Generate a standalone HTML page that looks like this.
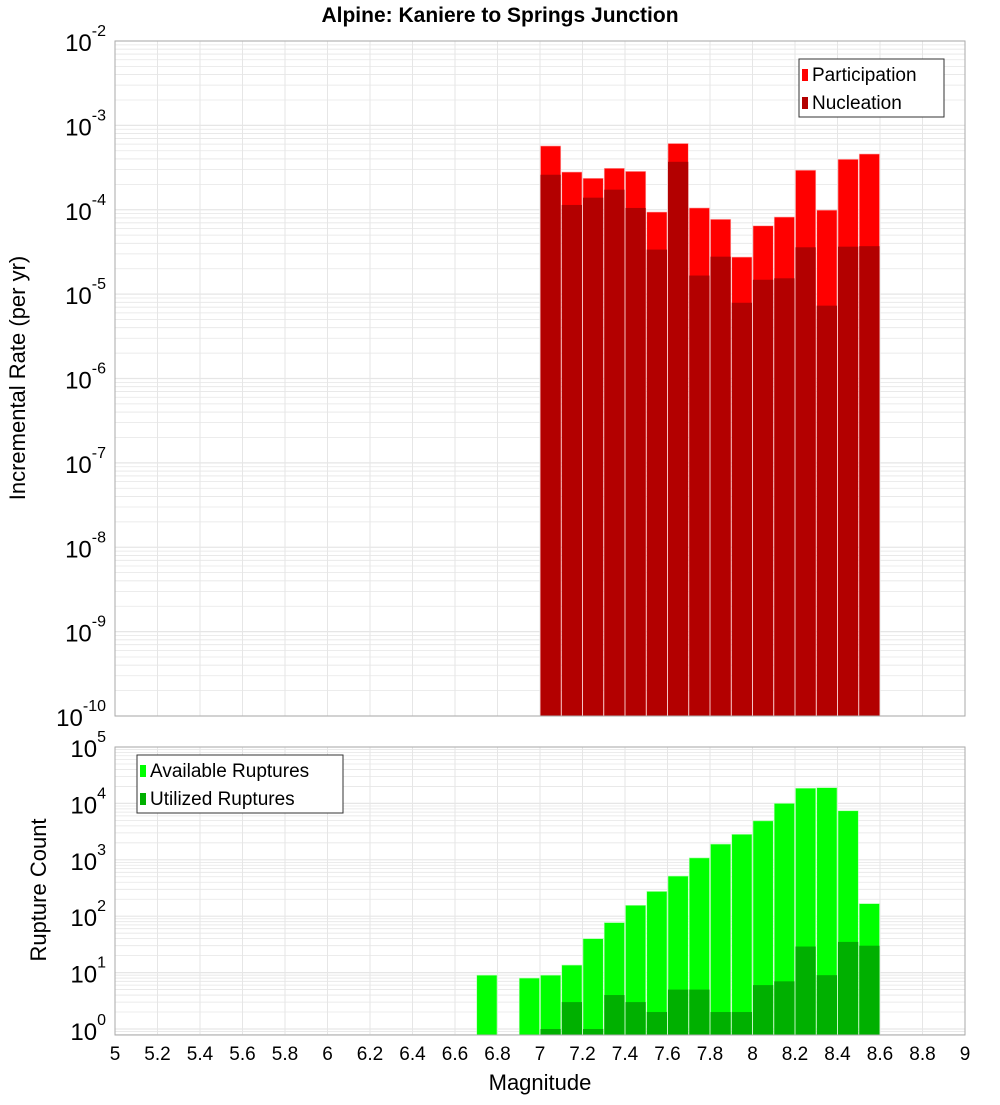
<!DOCTYPE html>
<html><head><meta charset="utf-8"><style>
body{margin:0;background:#fff;width:1000px;height:1100px;overflow:hidden}
svg{font-family:"Liberation Sans","DejaVu Sans",sans-serif}
</style></head><body>
<svg id="chart" width="1000" height="1100" xmlns="http://www.w3.org/2000/svg">
<text x="500" y="22" text-anchor="middle" font-size="21" font-weight="bold">Alpine: Kaniere to Springs Junction</text>
<g id="topPlot"></g>
<g id="botPlot"></g>
<text transform="translate(25,378) rotate(-90)" text-anchor="middle" font-size="22">Incremental Rate (per yr)</text>
<text transform="translate(46,890) rotate(-90)" text-anchor="middle" font-size="22">Rupture Count</text>
<text x="540" y="1090" text-anchor="middle" font-size="22">Magnitude</text>
</svg>
<script>
const binCenters=[7.05,7.15,7.25,7.35,7.45,7.55,7.65,7.75,7.85,7.95,8.05,8.15,8.25,8.35,8.45,8.55];
const participation=[5.7e-4,2.8e-4,2.36e-4,3.1e-4,2.85e-4,9.4e-5,6.1e-4,1.05e-4,7.7e-5,2.75e-5,6.45e-5,8.2e-5,2.94e-4,9.9e-5,3.96e-4,4.58e-4];
const nucleation=[2.6e-4,1.14e-4,1.39e-4,1.73e-4,1.05e-4,3.37e-5,3.7e-4,1.66e-5,2.78e-5,7.9e-6,1.48e-5,1.54e-5,3.59e-5,7.3e-6,3.65e-5,3.7e-5];
const countCenters=[6.75,6.95,7.05,7.15,7.25,7.35,7.45,7.55,7.65,7.75,7.85,7.95,8.05,8.15,8.25,8.35,8.45,8.55];
const available=[9,8,9,13.6,40,77,156,275,515,1080,1900,2830,4900,10000,18600,19000,7400,167];
const utilized=[0,0,1,3,1,4,3,2,5,5,2,2,6,7,29,9,35,30];
const xTicks=[5,5.2,5.4,5.6,5.8,6,6.2,6.4,6.6,6.8,7,7.2,7.4,7.6,7.8,8,8.2,8.4,8.6,8.8,9];
const topExps=[-2,-3,-4,-5,-6,-7,-8,-9,-10];
const botExps=[5,4,3,2,1,0];
const NS='http://www.w3.org/2000/svg';
const X0=115,X1=965;
const xs=m=>X0+(m-5)/4*(X1-X0);
function mk(p,t,a){const e=document.createElementNS(NS,t);for(const k in a)e.setAttribute(k,a[k]);p.appendChild(e);return e;}
const topG=document.getElementById('topPlot'),botG=document.getElementById('botPlot');
const TY0=41,TY1=716;
const ysT=v=>TY0+(-2-Math.log10(v))*(TY1-TY0)/8;
const BY0=747,BY1=1035,BYone=1029;
const ysB=v=>BYone-Math.log10(v)*(BYone-BY0)/5;
function grid(g,y0,y1,decs,ys){
  for(const d of decs){for(let k=1;k<10;k++){const y=ys(k*Math.pow(10,d));if(y<y0-0.5||y>y1+0.5)continue;
    const l=mk(g,'line',{x1:X0,x2:X1,y1:y,y2:y,stroke:'#e6e6e6','stroke-width':k==1?1.2:0.8});
    
    }}
  for(const t of xTicks){const l=mk(g,'line',{x1:xs(t),x2:xs(t),y1:y0,y2:y1,stroke:'#e6e6e6','stroke-width':1});
    
    }
}
grid(topG,TY0,TY1,[-10,-9,-8,-7,-6,-5,-4,-3,-2],ysT);
grid(botG,BY0,BY1,[-1,0,1,2,3,4,5],ysB);
const bw=(X1-X0)/40;
binCenters.forEach((c,i)=>{
  const x=xs(c)-bw/2;
  let y=ysT(participation[i]);
  let r=mk(topG,'rect',{x:x+0.5,y:y,width:bw-1,height:TY1-y,fill:'#ff0000',stroke:'#ffb0b0','stroke-width':0.6});
  
  
  y=ysT(nucleation[i]);
  r=mk(topG,'rect',{x:x+0.5,y:y,width:bw-1,height:TY1-y,fill:'#b30000'});
  
  
});
countCenters.forEach((c,i)=>{
  const x=xs(c)-bw/2;
  let y=ysB(available[i]);
  let r=mk(botG,'rect',{x:x+0.5,y:y,width:bw-1,height:BY1-y,fill:'#00ff00',stroke:'#b0ffb0','stroke-width':0.6});
  
  
  if(utilized[i]>0){y=ysB(utilized[i]);
  r=mk(botG,'rect',{x:x+0.5,y:y,width:bw-1,height:BY1-y,fill:'#00b000'});
  
  }
});
let f=mk(topG,'rect',{x:X0,y:TY0,width:X1-X0,height:TY1-TY0,fill:'none',stroke:'#aaa'});


f=mk(botG,'rect',{x:X0,y:BY0,width:X1-X0,height:BY1-BY0,fill:'none',stroke:'#aaa'});


function ylab(g,y,e){
  const t=mk(g,'text',{x:106,y:y+10,'text-anchor':'end','font-size':24});
  
  
  const a=mk(t,'tspan',{});a.textContent='10';
  const b=mk(t,'tspan',{dy:-15,'font-size':16});b.textContent=String(e);
}
topExps.forEach(e=>ylab(topG,ysT(Math.pow(10,e)),e));
botExps.forEach(e=>ylab(botG,e==0?1030:ysB(Math.pow(10,e)),e));
xTicks.forEach(t=>{const l=mk(botG,'text',{x:xs(t),y:1060,'text-anchor':'middle','font-size':19});
  
  
  l.textContent=String(t);});
function legend(g,x,y,w,items){
  const b=mk(g,'rect',{x:x,y:y,width:w,height:58,fill:'#fff',stroke:'#333'});
  
  
  items.forEach((it,i)=>{
    const s=mk(g,'rect',{x:x+3,y:y+10+i*28,width:6,height:12,fill:it[1]});
    
    
    const t=mk(g,'text',{x:x+13,y:y+22+i*28,'font-size':19});
    
    
    t.textContent=it[0];});
}
legend(topG,799,59,145,[['Participation','#ff0000'],['Nucleation','#b30000']]);
legend(botG,137,755,206,[['Available Ruptures','#00ff00'],['Utilized Ruptures','#00b000']]);
</script>
</body></html>
